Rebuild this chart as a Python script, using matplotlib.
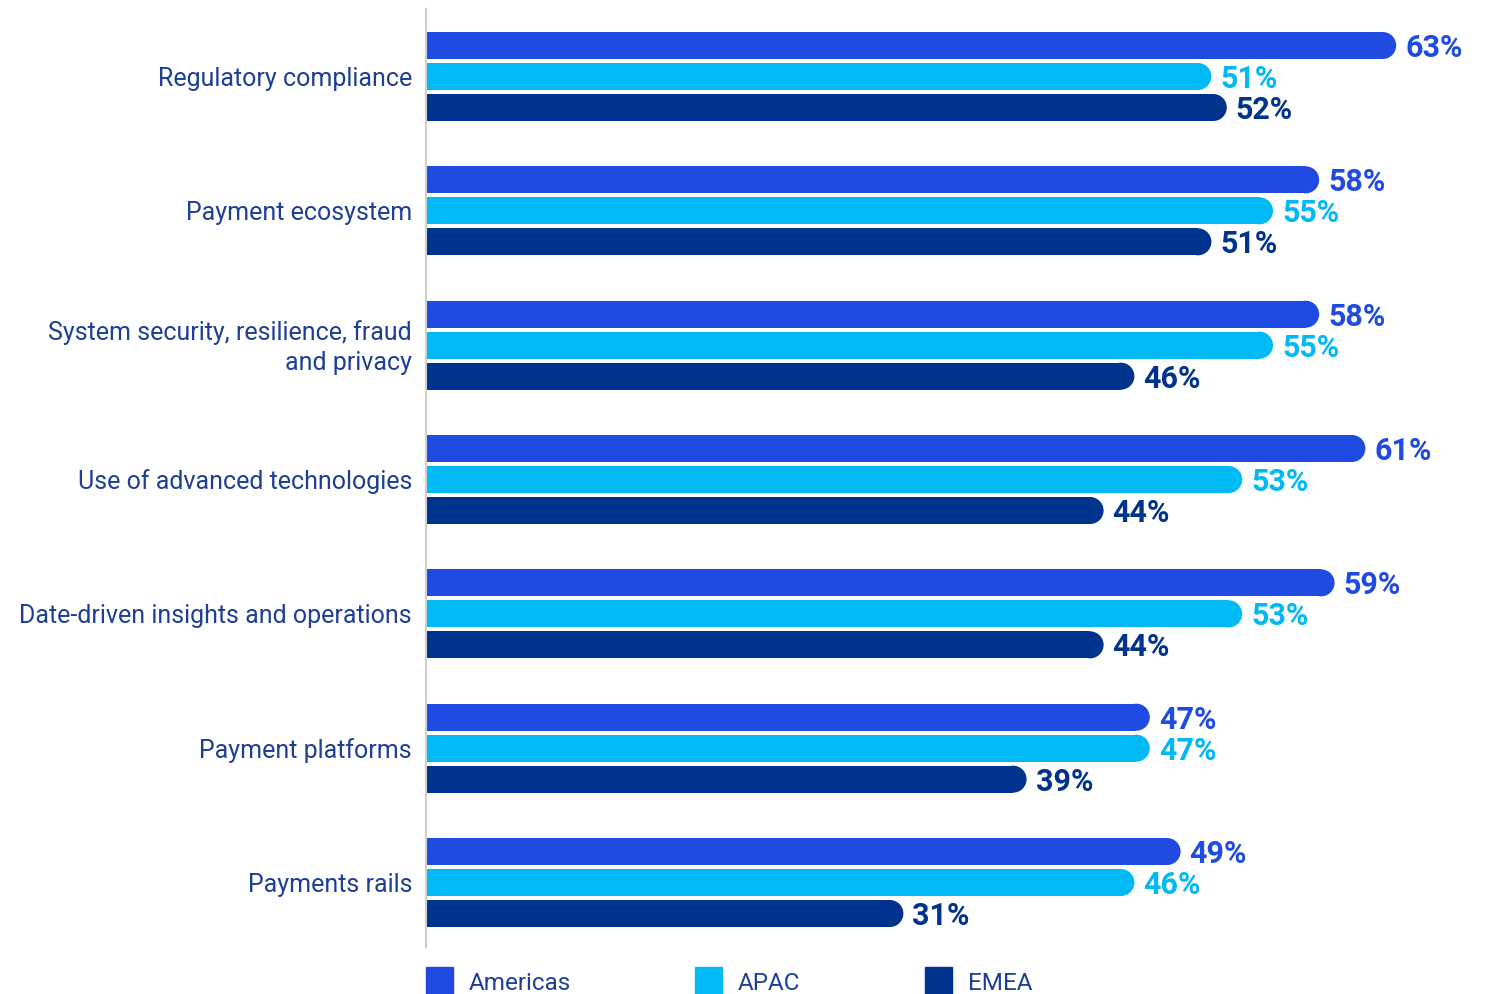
import matplotlib.pyplot as plt
from matplotlib.patches import Ellipse, Rectangle

plt.rcParams['font.family'] = ['Roboto', 'DejaVu Sans']

# Data
categories = ["Regulatory compliance", "Payment ecosystem",
              "System security, resilience, fraud\nand privacy",
              "Use of advanced technologies", "Date-driven insights and operations",
              "Payment platforms", "Payments rails"]
regions = ["Americas", "APAC", "EMEA"]
americas = [63, 58, 58, 61, 59, 47, 49]
apac = [51, 55, 55, 53, 53, 47, 46]
emea = [52, 51, 46, 44, 44, 39, 31]
colors = ["#1f4be3", "#00b9f5", "#00338d"]
text_color = "#1e3f96"

W, H = 1499, 995
fig = plt.figure(figsize=(W / 100, H / 100), dpi=100)
ax = fig.add_axes([426 / W, 1 - 948 / H, (W - 426) / W, (948 - 10) / H])

px_per_unit = 15.4
xmax = (W - 426) / px_per_unit
ax.set_xlim(0, xmax)
ax.set_ylim(6.48, -0.5025)

pitch = 134.33
offset = 31 / pitch
bar_h = 27 / pitch
rx = 13.5 / px_per_unit

for s, (vals, col) in enumerate(zip([americas, apac, emea], colors)):
    for i, v in enumerate(vals):
        y = i + (s - 1) * offset
        ax.barh(y, v - rx, height=bar_h, color=col, left=0)
        ax.add_patch(Ellipse((v - rx, y), width=2 * rx, height=bar_h, color=col, lw=0))
        ax.text(v + 9 / px_per_unit, y + 1.5 / pitch, f"{v}%", color=col, fontsize=22,
                fontweight='bold', va='center', ha='left')

for i, cat in enumerate(categories):
    ax.text(-14 / px_per_unit, i + 1.5 / pitch, cat, ha='right', va='center', fontsize=18,
            color=text_color, linespacing=1.35)

for side in ['top', 'right', 'bottom']:
    ax.spines[side].set_visible(False)
ax.spines['left'].set_color('#cfcfcf')
ax.spines['left'].set_linewidth(1.5)
ax.set_xticks([])
ax.set_yticks([])

# legend
for x0, name, col in zip([426, 695, 925], regions, colors):
    fig.patches.append(Rectangle((x0 / W, 1 - 995 / H), 27 / W, 27 / H,
                                 transform=fig.transFigure, color=col))
    fig.text((x0 + 43) / W, 1 - 984 / H, name, fontsize=17.5, color=text_color,
             va='center', ha='left')

plt.savefig("out.png", dpi=100)
